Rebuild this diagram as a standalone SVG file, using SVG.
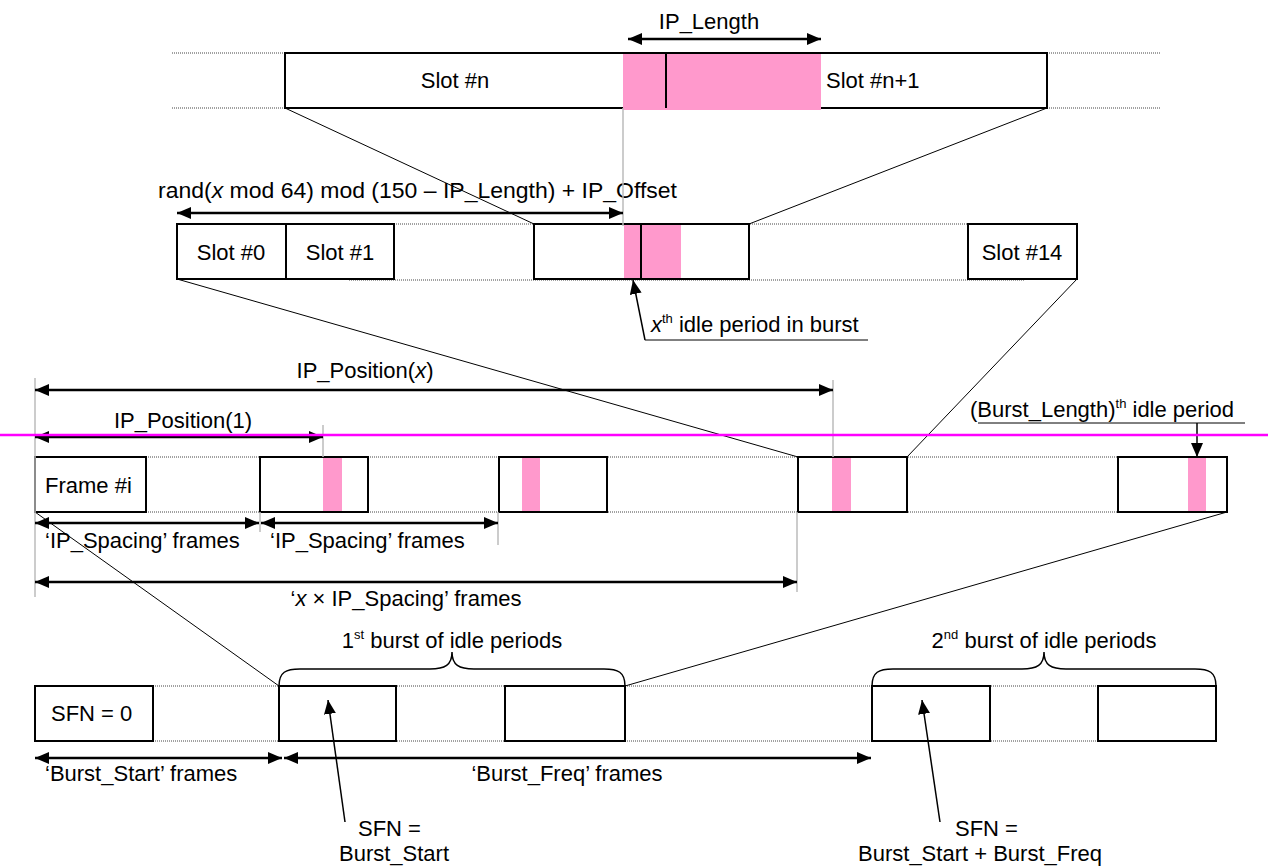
<svg xmlns="http://www.w3.org/2000/svg" width="1268" height="868" viewBox="0 0 1268 868">
<style>
text{font-family:"Liberation Sans",Arial,sans-serif;font-size:22px;fill:#000}
.m{text-anchor:middle}
.sup{font-size:13px}
.it{font-style:italic}
.box{fill:#fff;stroke:#000;stroke-width:2}
.pink{fill:#FF99CC;stroke:none}
.dot{stroke:#444;stroke-width:1;stroke-dasharray:1 1;fill:none}
.thin{stroke:#000;stroke-width:1;fill:none}
.call{stroke:#000;stroke-width:1.5;fill:none;marker-end:url(#ah)}
.gray{stroke:#bbb;stroke-width:1.5;fill:none}
.arr{stroke:#000;stroke-width:2.5;fill:none}
.dbl{marker-start:url(#ah);marker-end:url(#ah)}
.mag{stroke:#FF00FF;stroke-width:2.5}
</style>
<defs>
<marker id="ah" viewBox="0 0 14 12" refX="14" refY="6" markerWidth="14" markerHeight="12" markerUnits="userSpaceOnUse" orient="auto-start-reverse">
<path d="M0,0 L14,6 L0,12 Z" fill="#000"/>
</marker>
</defs>

<!-- dotted guide lines -->
<g id="guides">
<line class="dot" x1="172" y1="53" x2="285" y2="53"/>
<line class="dot" x1="172" y1="108" x2="285" y2="108"/>
<line class="dot" x1="1047" y1="53" x2="1160" y2="53"/>
<line class="dot" x1="1047" y1="108" x2="1160" y2="108"/>
<line class="dot" x1="394" y1="224" x2="968" y2="224"/>
<line class="dot" x1="349" y1="280" x2="1025" y2="280"/>
<line class="dot" x1="146" y1="457" x2="1118" y2="457"/>
<line class="dot" x1="146" y1="512" x2="1118" y2="512"/>
<line class="dot" x1="153" y1="686" x2="1216" y2="686"/>
<line class="dot" x1="153" y1="741" x2="1216" y2="741"/>
</g>

<!-- Row 1 -->
<g id="slot-n-pair">
<rect class="box" x="285" y="53" width="762" height="55"/>
<rect class="pink" x="623" y="53" width="198" height="57"/>
<line x1="285" y1="53" x2="1047" y2="53" stroke="#000" stroke-width="2"/>
<line x1="666" y1="53" x2="666" y2="108" stroke="#000" stroke-width="2"/>
<text class="m" x="455" y="88">Slot #n</text>
<text x="826" y="88">Slot #n+1</text>
<text class="m" x="709" y="29">IP_Length</text>
</g>

<!-- Row 2 -->
<g id="slot0"><rect class="box" x="177" y="224" width="109" height="55"/><text class="m" x="231" y="260">Slot #0</text></g>
<g id="slot1"><rect class="box" x="286" y="224" width="108" height="55"/><text class="m" x="340" y="260">Slot #1</text></g>
<g id="slot-mid">
<rect class="box" x="534" y="224" width="215" height="55"/>
<rect class="pink" x="624" y="225" width="57" height="53"/>
<line x1="641" y1="224" x2="641" y2="279" stroke="#000" stroke-width="2"/>
</g>
<g id="slot14"><rect class="box" x="968" y="224" width="109" height="55"/><text class="m" x="1022" y="260">Slot #14</text></g>
<g id="rand-label"><text x="158" y="198" textLength="519" lengthAdjust="spacingAndGlyphs">rand(<tspan class="it">x</tspan> mod 64) mod (150 – IP_Length) + IP_Offset</text></g>
<g id="xth-label"><text x="651" y="332"><tspan class="it">x</tspan><tspan class="sup" dy="-9">th</tspan><tspan dy="9"> idle period in burst</tspan></text></g>

<!-- Row 3 -->
<g id="frame-i"><rect class="box" x="35" y="457" width="111" height="55"/><text x="45" y="493">Frame #i</text></g>
<g id="frame-2"><rect class="box" x="260" y="457" width="108" height="55"/><rect class="pink" x="323" y="458" width="19" height="53"/></g>
<g id="frame-3"><rect class="box" x="499" y="457" width="108" height="55"/><rect class="pink" x="522" y="458" width="18" height="53"/></g>
<g id="frame-x"><rect class="box" x="798" y="457" width="109" height="55"/><rect class="pink" x="832" y="458" width="19" height="53"/></g>
<g id="frame-last"><rect class="box" x="1118" y="457" width="109" height="55"/><rect class="pink" x="1188" y="458" width="18" height="53"/></g>
<g id="row3-labels">
<text class="m" x="365" y="378">IP_Position(<tspan class="it">x</tspan>)</text>
<text class="m" x="183" y="428">IP_Position(1)</text>
<text x="970" y="417">(Burst_Length)<tspan class="sup" dy="-9">th</tspan><tspan dy="9"> idle period</tspan></text>
<text x="45" y="548">‘IP_Spacing’ frames</text>
<text x="270" y="548">‘IP_Spacing’ frames</text>
<text class="m" x="406" y="606">‘<tspan class="it">x</tspan> × IP_Spacing’ frames</text>
</g>

<!-- Row 4 -->
<g id="sfn0"><rect class="box" x="35" y="686" width="118" height="55"/><text x="51" y="721">SFN = 0</text></g>
<g id="burst1-a"><rect class="box" x="279" y="686" width="117" height="55"/></g>
<g id="burst1-b"><rect class="box" x="505" y="686" width="120" height="55"/></g>
<g id="burst2-a"><rect class="box" x="872" y="686" width="118" height="55"/></g>
<g id="burst2-b"><rect class="box" x="1098" y="686" width="118" height="55"/></g>
<g id="row4-labels">
<text class="m" x="452" y="648">1<tspan class="sup" dy="-9">st</tspan><tspan dy="9"> burst of idle periods</tspan></text>
<text class="m" x="1044" y="648">2<tspan class="sup" dy="-9">nd</tspan><tspan dy="9"> burst of idle periods</tspan></text>
<text x="45" y="781">‘Burst_Start’ frames</text>
<text class="m" x="567" y="781">‘Burst_Freq’ frames</text>
<text x="358" y="836">SFN =</text>
<text class="m" x="394" y="861">Burst_Start</text>
<text x="955" y="836">SFN =</text>
<text class="m" x="980" y="861">Burst_Start + Burst_Freq</text>
</g>

<!-- connectors -->
<g id="connectors">
<line class="thin" x1="285" y1="108" x2="534" y2="224"/>
<line class="thin" x1="1047" y1="108" x2="749" y2="224"/>
<line class="thin" x1="177" y1="279" x2="798" y2="457"/>
<line class="thin" x1="1077" y1="279" x2="907" y2="457"/>
<line class="thin" x1="35" y1="512" x2="279" y2="686"/>
<line class="thin" x1="1227" y1="512" x2="625" y2="686"/>
<line class="gray" x1="623" y1="108" x2="623" y2="226"/>
<line class="gray" x1="35" y1="378" x2="35" y2="597"/>
<line class="gray" x1="833" y1="380" x2="833" y2="457"/>
<line class="gray" x1="323" y1="425" x2="323" y2="457"/>
<line class="gray" x1="260" y1="512" x2="260" y2="532"/>
<line class="gray" x1="498" y1="512" x2="498" y2="545"/>
<line class="gray" x1="797" y1="512" x2="797" y2="592"/>
<line class="arr dbl" x1="628" y1="39" x2="821" y2="39"/>
<line class="arr dbl" x1="177" y1="213" x2="623" y2="213"/>
<line class="arr dbl" x1="35" y1="390" x2="833" y2="390"/>
<line class="arr dbl" x1="35" y1="437" x2="323" y2="437"/>
<line class="arr dbl" x1="35" y1="523" x2="259" y2="523"/>
<line class="arr dbl" x1="261" y1="523" x2="498" y2="523"/>
<line class="arr dbl" x1="35" y1="582" x2="797" y2="582"/>
<line class="arr dbl" x1="35" y1="758" x2="282" y2="758"/>
<line class="arr dbl" x1="284" y1="758" x2="871" y2="758"/>
<polyline class="thin" points="868,340 645,340"/>
<line class="call" x1="645" y1="340" x2="633" y2="280"/>
<polyline class="thin" points="978,423 1245,423"/>
<line class="call" x1="1197" y1="423" x2="1197" y2="457"/>
<line class="call" x1="345" y1="822" x2="328" y2="700"/>
<line class="call" x1="940" y1="822" x2="922" y2="700"/>
<path class="thin" style="stroke-width:1.5" d="M279,686 C279,672 286,669 300,669 L430,669 C445,669 452,665 452,652 C452,665 459,669 474,669 L604,669 C618,669 625,672 625,686"/>
<path class="thin" style="stroke-width:1.5" d="M872,686 C872,672 879,669 893,669 L1022,669 C1037,669 1044,665 1044,652 C1044,665 1051,669 1066,669 L1195,669 C1209,669 1216,672 1216,686"/>
</g>

<g id="mag-line"><line class="mag" x1="0" y1="435" x2="1268" y2="435"/></g>
</svg>
